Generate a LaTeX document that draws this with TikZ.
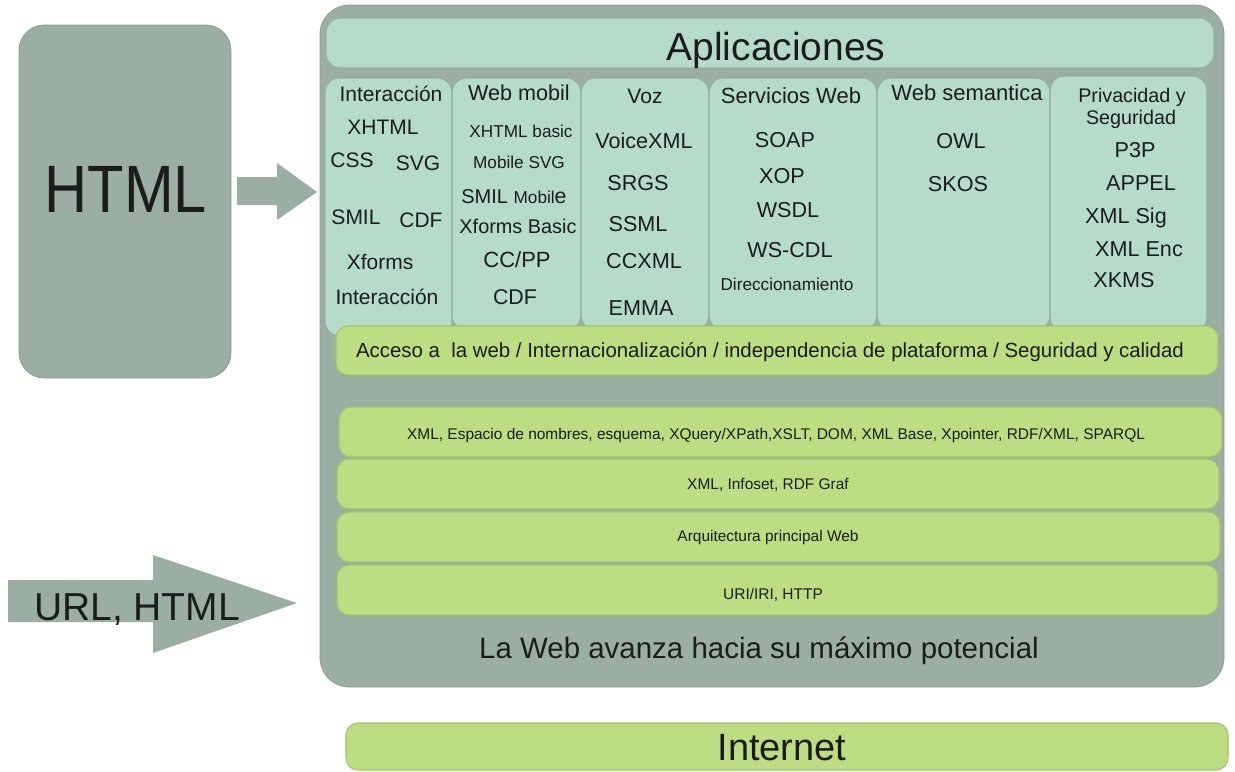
\documentclass[tikz,border=0pt]{standalone}
\usepackage{fontspec}
\setmainfont{Liberation Sans}
\newcommand{\fz}[1]{\fontsize{#1}{#1}\selectfont}
\definecolor{gbox}{HTML}{9AAFA2}
\definecolor{gline}{HTML}{889E90}
\definecolor{mint}{HTML}{B5DCCB}
\definecolor{mintline}{HTML}{92B0A1}
\definecolor{lime}{HTML}{BCDD82}
\definecolor{limeline}{HTML}{A2C26D}
\definecolor{txt}{HTML}{1C1C1C}
\begin{document}
\begin{tikzpicture}[x=0.75pt,y=-0.75pt,
  t/.style={anchor=base, inner sep=0pt, text=txt},
  colbox/.style={fill=mint, draw=mintline, line width=0.8pt, rounded corners=11pt},
  band/.style={fill=lime, draw=limeline, line width=0.8pt, rounded corners=9pt},
  graybox/.style={fill=gbox, draw=gline, line width=0.6pt},
]
\useasboundingbox (0,0) rectangle (1235,771);
% left HTML box
\draw[graybox, rounded corners=19pt] (19,25) rectangle (231,378);
\node[t, font=\fz{50.25}, xscale=0.89] (html) at (126,212) {HTML};
% arrow 1
\fill[gbox] (237,177) -- (277,177) -- (277,163) -- (317,192) -- (277,220) -- (277,205) -- (237,205) -- cycle;
% arrow 2
\fill[gbox] (8,580) -- (153,580) -- (153,555) -- (297,603) -- (153,653) -- (153,622) -- (8,622) -- cycle;
\node[t, font=\fz{29.25}] (url) at (137,620) {URL, HTML};
% main box
\draw[graybox, rounded corners=22pt] (320,5) rectangle (1224,687);
% aplicaciones
\draw[colbox, rounded corners=11pt] (326,18) rectangle (1214,68);
\node[t, font=\fz{29.25}] (apl) at (776,60) {Aplicaciones};
% columns
\draw[colbox] (325,78) rectangle (452,336);
\draw[colbox] (452,78) rectangle (581,330);
\draw[colbox] (581,78) rectangle (709,330);
\draw[colbox] (709,78) rectangle (877,330);
\draw[colbox] (877,78) rectangle (1050,330);
\draw[colbox] (1050,76) rectangle (1207,332);
% bands
\draw[band] (336,326) rectangle (1218,375);
\draw[band] (339,407) rectangle (1222,457);
\draw[band] (337,459) rectangle (1219,509);
\draw[band] (337,512) rectangle (1220,562);
\draw[band] (337,565) rectangle (1218,615);
% internet
\draw[band] (346,723) rectangle (1228,770);
% column 1
\node[t, font=\fz{15.75}] (a1) at (391,101) {Interacción};
\node[t, font=\fz{15.75}] (a2) at (383,134) {XHTML};
\node[t, font=\fz{15.75}] (a3) at (352,167) {CSS};
\node[t, font=\fz{15.75}] (a4) at (418,170) {SVG};
\node[t, font=\fz{15.75}] (a5) at (356,224) {SMIL};
\node[t, font=\fz{15.75}] (a6) at (421,227) {CDF};
\node[t, font=\fz{15.75}] (a7) at (380,269) {Xforms};
\node[t, font=\fz{15.75}] (a8) at (387,304) {Interacción};
% column 2
\node[t, font=\fz{16.2}] (b1) at (519,100) {Web mobil};
\node[t, font=\fz{12.9}] (b2) at (521,137) {XHTML basic};
\node[t, font=\fz{12.9}] (b3) at (519,168) {Mobile SVG};
\node[t] (b4) at (514,203) {\fz{15}SMIL \fz{12.9}Mobil\fz{16}e};
\node[t, font=\fz{14.9}] (b5) at (518,233) {Xforms Basic};
\node[t, font=\fz{16.5}] (b6) at (517,267) {CC/PP};
\node[t, font=\fz{16}] (b7) at (515,304) {CDF};
% column 3
\node[t, font=\fz{15.75}] (v1) at (645,103) {Voz};
\node[t, font=\fz{16.2}] (v2) at (644,148) {VoiceXML};
\node[t, font=\fz{16.2}] (v3) at (638,190) {SRGS};
\node[t, font=\fz{16.2}] (v4) at (638,231) {SSML};
\node[t, font=\fz{16.2}] (v5) at (644,268) {CCXML};
\node[t, font=\fz{16.2}] (v6) at (641,315) {EMMA};
% column 4
\node[t, font=\fz{16.5}] (s1) at (791,103) {Servicios Web};
\node[t, font=\fz{16.2}] (s2) at (785,147) {SOAP};
\node[t, font=\fz{16.2}] (s3) at (782,183) {XOP};
\node[t, font=\fz{16.2}] (s4) at (788,217) {WSDL};
\node[t, font=\fz{16.2}] (s5) at (790,257) {WS-CDL};
\node[t, font=\fz{12.9}] (s6) at (787,290) {Direccionamiento};
% column 5
\node[t, font=\fz{16.5}] (w1) at (967,100) {Web semantica};
\node[t, font=\fz{16.2}] (w2) at (961,148) {OWL};
\node[t, font=\fz{16.2}] (w3) at (958,191) {SKOS};
% column 6
\node[t, font=\fz{14.8}] (p1) at (1132,102) {Privacidad y};
\node[t, font=\fz{14.8}] (p2) at (1131,124) {Seguridad};
\node[t, font=\fz{16.2}] (p3) at (1135,157) {P3P};
\node[t, font=\fz{16.2}] (p4) at (1141,190) {APPEL};
\node[t, font=\fz{16.2}] (p5) at (1126,223) {XML Sig};
\node[t, font=\fz{16.2}] (p6) at (1139,256) {XML Enc};
\node[t, font=\fz{16.2}] (p7) at (1124,287) {XKMS};
% band texts
\node[t, font=\fz{15.3}] (ba) at (770,357) {Acceso a\ \ la web / Internacionalización / independencia de plataforma / Seguridad y calidad};
\node[t, font=\fz{11.6}] (bb) at (776,439) {XML, Espacio de nombres, esquema, XQuery/XPath,XSLT, DOM, XML Base, Xpointer, RDF/XML, SPARQL};
\node[t, font=\fz{11.6}] (bc) at (768,489) {XML, Infoset, RDF Graf};
\node[t, font=\fz{11.6}] (bd) at (768,541) {Arquitectura principal Web};
\node[t, font=\fz{11.6}] (be) at (773,599) {URI/IRI, HTTP};
\node[t, font=\fz{22.1}] (lw) at (759,658) {La Web avanza hacia su máximo potencial};
\node[t, font=\fz{28.5}] (inet) at (782,760) {Internet};
\end{tikzpicture}
\end{document}
